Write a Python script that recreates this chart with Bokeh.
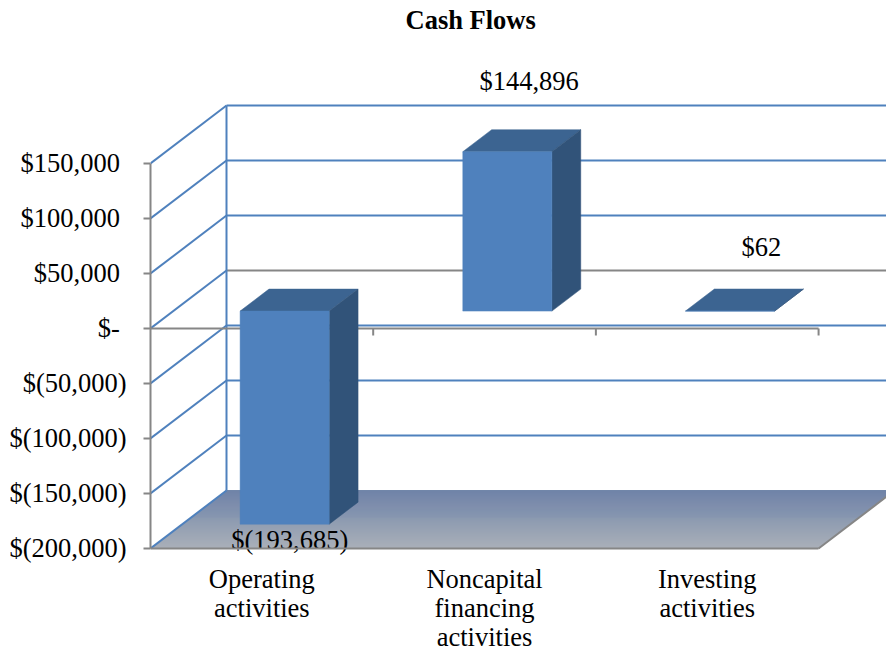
from bokeh.plotting import figure
from bokeh.models import FixedTicker, LinearAxis, Range1d
from bokeh.core.properties import value
from bokeh.embed import file_html
from bokeh.resources import INLINE

# ---- data
categories = ["Operating\nactivities", "Noncapital\nfinancing\nactivities", "Investing\nactivities"]
cash_flows = [-193685, 144896, 62]
data_labels = ["$(193,685)", "$144,896", "$62"]
tick_values = [150000, 100000, 50000, 0, -50000, -100000, -150000, -200000]
tick_labels = ["$150,000\u00a0", "$100,000\u00a0", "$50,000\u00a0", "$-\u00a0",
               "$(50,000)", "$(100,000)", "$(150,000)", "$(200,000)"]

# ---- oblique projection of the 3-D box (category units, dollars)
DEPTH_X = 0.3413
DEPTH_Y = 52700
BAR_D0, BAR_D1 = 0.30, 0.68
BAR_W = 0.40
X_MAX = 3.305
FONT = "Liberation Serif"
FS = "26.5px"
BLUE, GRAY = "#4f81bd", "#868686"
TOP, SIDE = "#3c6491", "#315379"

def px(x, d):
    return x + d * DEPTH_X

def py(v, d):
    return v + d * DEPTH_Y

p = figure(width=886, height=653, output_backend="svg", toolbar_location=None,
           x_range=Range1d(0, X_MAX), y_range=Range1d(-295455, 265454),
           min_border_left=150, min_border_right=0, min_border_top=36, min_border_bottom=0,
           x_axis_type=None, y_axis_type=None, title="Cash Flows")
p.outline_line_color = None
p.grid.visible = False
p.title.align = "left"
p.title.offset = 255
p.title.text_font = FONT
p.title.text_font_size = FS
p.title.text_font_style = "bold"
p.title.text_color = "#000000"
p.title.standoff = 4

# axes
ya = LinearAxis(ticker=FixedTicker(ticks=tick_values),
                major_label_overrides=dict(zip(tick_values, tick_labels)))
ya.bounds = (min(tick_values), max(tick_values))
ya.axis_line_color = GRAY
ya.axis_line_width = 2
ya.major_tick_line_color = GRAY
ya.major_tick_line_width = 2
ya.major_tick_in = 0
ya.major_tick_out = 7
ya.minor_tick_line_color = None
ya.major_label_standoff = 17
ya.major_label_text_font = FONT
ya.major_label_text_font_size = FS
ya.major_label_text_color = "#000000"
p.add_layout(ya, "left")

centers = [i + 0.5 for i in range(len(categories))]
xa = LinearAxis(ticker=FixedTicker(ticks=centers), fixed_location=min(tick_values),
                major_label_overrides=dict(zip(centers, categories)))
xa.bounds = (0, len(categories))
xa.axis_line_color = GRAY
xa.axis_line_width = 2
xa.major_tick_line_color = None
xa.minor_tick_line_color = None
xa.major_label_standoff = 10
xa.major_label_text_font = FONT
xa.major_label_text_font_size = FS
xa.major_label_text_color = "#000000"
xa.major_label_text_line_height = 0.96
p.add_layout(xa, "below")

# floor gradient
vmin = min(tick_values)
n_cat = len(categories)
N = 58
back, front = (0x6f, 0x86, 0xa8), (0xab, 0xb0, 0xb9)
for i in range(N):
    d0, d1 = i / N, (i + 1) / N
    t = (i + 0.5) / N
    c = tuple(int(round(front[k] + (back[k] - front[k]) * t)) for k in range(3))
    col = "#%02x%02x%02x" % c
    p.patch([px(0, d0), px(n_cat, d0), px(n_cat, d1), px(0, d1)],
            [py(vmin, d0), py(vmin, d0), py(vmin, d1), py(vmin, d1)],
            fill_color=col, line_color=col, line_width=1)

# side wall, back wall
for v in tick_values:
    p.line([px(0, 0), px(0, 1)], [py(v, 0), py(v, 1)], line_color=BLUE, line_width=2)
    if v != vmin:
        p.line([px(0, 1), X_MAX], [py(v, 1), py(v, 1)],
               line_color=GRAY if v == 0 else BLUE, line_width=2)
p.line([px(0, 1), px(0, 1)], [py(vmin, 1), py(max(tick_values), 1)], line_color=BLUE, line_width=2)
# floor right edge
p.line([px(n_cat, 0), px(n_cat, 1)], [py(vmin, 0), py(vmin, 1)], line_color=GRAY, line_width=2)

# front zero axis with category ticks
p.line([0, n_cat], [0, 0], line_color=GRAY, line_width=2)
tick_len = 7 / 0.0011
for i in range(1, n_cat + 1):
    p.line([i, i], [0, -tick_len], line_color=GRAY, line_width=2)

# bars
for i, v in enumerate(cash_flows):
    xl, xr = centers[i] - BAR_W / 2, centers[i] + BAR_W / 2
    hi, lo = max(v, 0), min(v, 0)
    p.patch([px(xl, BAR_D0), px(xr, BAR_D0), px(xr, BAR_D1), px(xl, BAR_D1)],
            [py(hi, BAR_D0), py(hi, BAR_D0), py(hi, BAR_D1), py(hi, BAR_D1)],
            fill_color=TOP, line_color=TOP, line_width=0.5)
    p.patch([px(xr, BAR_D0), px(xr, BAR_D1), px(xr, BAR_D1), px(xr, BAR_D0)],
            [py(hi, BAR_D0), py(hi, BAR_D1), py(lo, BAR_D1), py(lo, BAR_D0)],
            fill_color=SIDE, line_color=SIDE, line_width=0.5)
    p.quad(left=[px(xl, BAR_D0)], right=[px(xr, BAR_D0)], top=[py(hi, BAR_D0)], bottom=[py(lo, BAR_D0)],
           fill_color=BLUE, line_color=BLUE, line_width=0.5)

# data labels
label_dx = [0.125, 0.20, 0.243]
label_dy = [-34000, 44200, 37900]
lx = [px(c, BAR_D0) - 0.102 + dx for c, dx in zip(centers, label_dx)]
ly = [py(v, BAR_D1) + dy for v, dy in zip(cash_flows, label_dy)]
p.text(lx, ly, text=data_labels, text_font=value(FONT), text_font_size=value(FS),
       text_align="center", text_baseline="middle", text_color="#000000")

open("out.html", "w").write(file_html(p, INLINE))
